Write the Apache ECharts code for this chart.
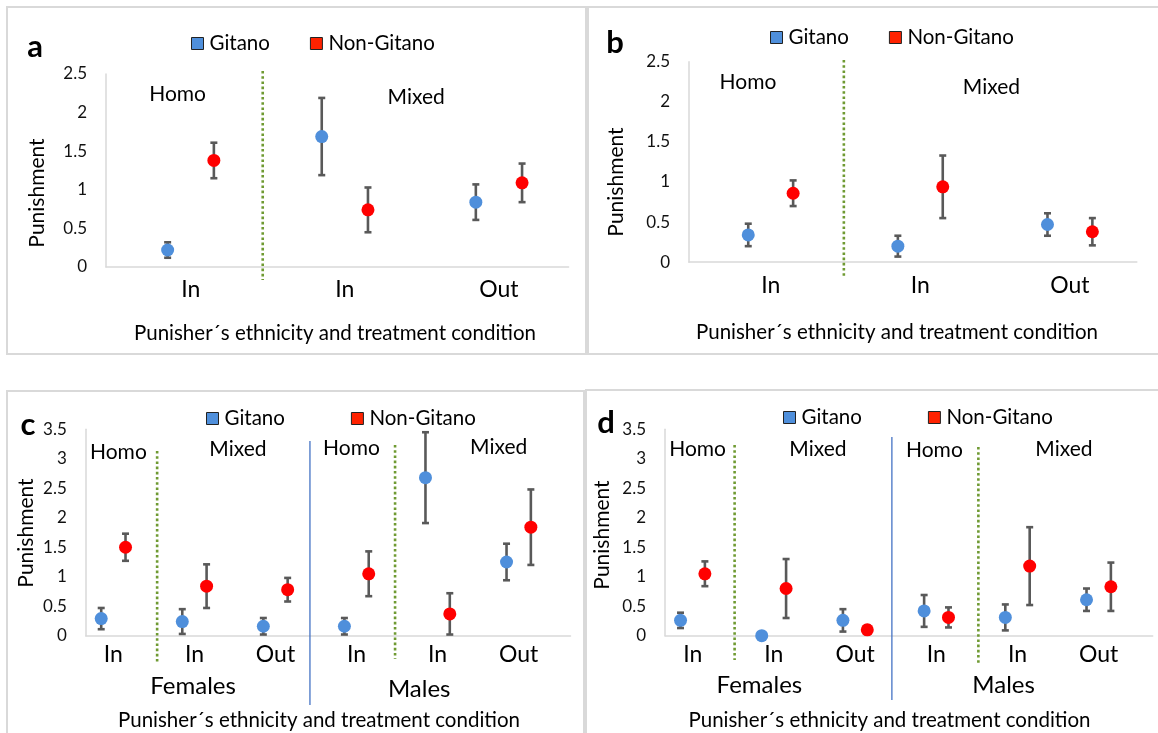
<!DOCTYPE html>
<html><head><meta charset="utf-8">
<script src="https://cdn.jsdelivr.net/npm/echarts@6/dist/echarts.min.js"></script>
<style>html,body{margin:0;padding:0;background:#fff}#c{width:1158px;height:733px}</style>
</head><body><div id="c"></div>
<script>
// ---- data ----
const seriesNames = ['Gitano', 'Non-Gitano'];
const aCats = ['In', 'In', 'Out'];
const aGitano = [0.22, 1.69, 0.84];
const aGitanoErr = [0.10, 0.50, 0.23];
const aNonGitano = [1.38, 0.74, 1.09];
const aNonGitanoErr = [0.23, 0.29, 0.25];

const bCats = ['In', 'In', 'Out'];
const bGitano = [0.34, 0.20, 0.47];
const bGitanoErr = [0.14, 0.13, 0.14];
const bNonGitano = [0.86, 0.94, 0.38];
const bNonGitanoErr = [0.16, 0.39, 0.17];

const cCats = ['In', 'In', 'Out', 'In', 'In', 'Out'];
const cGitano = [0.29, 0.24, 0.16, 0.16, 2.68, 1.25];
const cGitanoErr = [0.18, 0.21, 0.14, 0.14, 0.77, 0.31];
const cNonGitano = [1.50, 0.84, 0.78, 1.05, 0.37, 1.84];
const cNonGitanoErr = [0.23, 0.37, 0.20, 0.38, 0.35, 0.64];

const dCats = ['In', 'In', 'Out', 'In', 'In', 'Out'];
const dGitano = [0.26, 0.00, 0.26, 0.42, 0.31, 0.61];
const dGitanoErr = [0.13, 0.00, 0.19, 0.27, 0.22, 0.19];
const dNonGitano = [1.05, 0.80, 0.10, 0.31, 1.18, 0.83];
const dNonGitanoErr = [0.21, 0.50, 0.07, 0.17, 0.66, 0.41];

const yTitle = 'Punishment';
const xTitle = 'Punisher\u00b4s ethnicity and treatment condition';

// ---- styling / layout ----
const FONT = 'Lato, "Open Sans", sans-serif';
const BLUE = '#4f8fdb', RED = '#ff0000', ERR = '#595959';
const OFF = 0.15;

const panels = [
  { letter: 'a', cats: aCats, G: aGitano, Ge: aGitanoErr, N: aNonGitano, Ne: aNonGitanoErr,
    grid: { left: 106, top: 74, width: 462.6, height: 193 }, ymax: 2.5, xmin: -0.55, xmax: 2.452, labMargin: 11,
    letterPos: [35, 47], legend: [186, 28], legendGap: 40, yTitlePos: [37, 193], xTitlePos: [335, 333],
    texts: [['Homo', 177.6, 94], ['Mixed', 416.2, 97]], groups: [],
    dividers: [{ v: 0.467, y1: 71, y2: 280, kind: 'dot' }] },
  { letter: 'b', cats: bCats, G: bGitano, Ge: bGitanoErr, N: bNonGitano, Ne: bNonGitanoErr,
    grid: { left: 689, top: 61.7, width: 447.8, height: 200.5 }, ymax: 2.5, xmin: -0.546, xmax: 2.447, labMargin: 12,
    letterPos: [615, 43], legend: [765, 22], legendGap: 40, yTitlePos: [616, 182], xTitlePos: [897, 332],
    texts: [['Homo', 748, 82], ['Mixed', 991.4, 87]], groups: [],
    dividers: [{ v: 0.489, y1: 60, y2: 276, kind: 'dot' }] },
  { letter: 'c', cats: cCats, G: cGitano, Ge: cGitanoErr, N: cNonGitano, Ne: cNonGitanoErr,
    grid: { left: 85.8, top: 429.3, width: 484.7, height: 206.4 }, ymax: 3.5, xmin: -0.34, xmax: 5.639, labMargin: 7,
    letterPos: [28, 425], legend: [201, 403], legendGap: 66, yTitlePos: [26, 533], xTitlePos: [319, 720],
    texts: [['Homo', 118.4, 452], ['Mixed', 237.9, 449], ['Homo', 351.5, 448], ['Mixed', 498.7, 447]],
    groups: [['Females', 193.1, 686], ['Males', 419.2, 689]],
    dividers: [{ v: 0.54, y1: 451, y2: 663, kind: 'dot' }, { v: 2.425, y1: 441, y2: 705, kind: 'solid' }, { v: 3.475, y1: 445, y2: 659, kind: 'dot' }] },
  { letter: 'd', cats: dCats, G: dGitano, Ge: dGitanoErr, N: dNonGitano, Ne: dNonGitanoErr,
    grid: { left: 665.1, top: 429.3, width: 487.6, height: 206.4 }, ymax: 3.5, xmin: -0.34, xmax: 5.665, labMargin: 7,
    letterPos: [606, 423], legend: [778, 402], legendGap: 66, yTitlePos: [602, 535], xTitlePos: [889.5, 720],
    texts: [['Homo', 697.6, 449], ['Mixed', 817.9, 449], ['Homo', 934.4, 450], ['Mixed', 1063.9, 449]],
    groups: [['Females', 759.4, 685], ['Males', 1003.6, 685]],
    dividers: [{ v: 0.516, y1: 445, y2: 660, kind: 'dot' }, { v: 2.453, y1: 437, y2: 700, kind: 'solid' }, { v: 3.518, y1: 447, y2: 663, kind: 'dot' }] }
];

function errSeries(name, idx, vals, errs, offset) {
  return {
    type: 'custom', name: name, xAxisIndex: idx, yAxisIndex: idx, silent: true, z: 2,
    data: vals.map((v, i) => [i + offset, v - errs[i], v + errs[i]]),
    encode: { x: 0, y: [1, 2] },
    renderItem: function (params, api) {
      const x = api.value(0), lo = api.value(1), hi = api.value(2);
      if (hi - lo <= 0) return { type: 'group', children: [] };
      const p1 = api.coord([x, lo]), p2 = api.coord([x, hi]);
      const hw = 3.5, st = { stroke: ERR, lineWidth: 2.6 };
      return { type: 'group', children: [
        { type: 'line', shape: { x1: p1[0], y1: p1[1], x2: p2[0], y2: p2[1] }, style: st },
        { type: 'line', shape: { x1: p1[0] - hw, y1: p1[1], x2: p1[0] + hw, y2: p1[1] }, style: st },
        { type: 'line', shape: { x1: p2[0] - hw, y1: p2[1], x2: p2[0] + hw, y2: p2[1] }, style: st }
      ] };
    }
  };
}
function dotSeries(name, idx, vals, offset, color) {
  return {
    type: 'scatter', name: name, xAxisIndex: idx, yAxisIndex: idx, z: 3,
    symbol: 'circle', symbolSize: 13, itemStyle: { color: color, opacity: 1 },
    data: vals.map((v, i) => [i + offset, v])
  };
}

const grids = [], xAxes = [], yAxes = [], series = [], legends = [], graphics = [];
panels.forEach((p, k) => {
  grids.push(Object.assign({ containLabel: false }, p.grid));
  const cats = p.cats;
  xAxes.push({
    type: 'value', gridIndex: k, min: p.xmin, max: p.xmax,
    axisLine: { show: true, onZero: false, lineStyle: { color: '#d9d9d9', width: 1.5 } },
    axisTick: { show: false }, splitLine: { show: false },
    axisLabel: { customValues: cats.map((c, i) => i), formatter: v => cats[Math.round(v)],
      fontSize: 23, color: '#000', fontFamily: FONT, margin: p.labMargin }
  });
  yAxes.push({
    type: 'value', gridIndex: k, min: 0, max: p.ymax, interval: 0.5,
    axisLine: { show: true, onZero: false, lineStyle: { color: '#d9d9d9', width: 1.5 } },
    axisTick: { show: false }, splitLine: { show: false },
    axisLabel: { fontSize: 17, color: '#111', fontFamily: FONT, margin: 19 }
  });
  series.push(errSeries('Gitano SE', k, p.G, p.Ge, -OFF));
  series.push(errSeries('Non-Gitano SE', k, p.N, p.Ne, OFF));
  series.push(dotSeries(seriesNames[0], k, p.G, -OFF, BLUE));
  series.push(dotSeries(seriesNames[1], k, p.N, OFF, RED));
  legends.push({
    left: p.legend[0], top: p.legend[1], orient: 'horizontal', itemGap: p.legendGap,
    itemWidth: 12, itemHeight: 12, icon: 'rect', selectedMode: false,
    itemStyle: { borderColor: '#222', borderWidth: 1 },
    textStyle: { fontSize: 20.5, color: '#000', fontFamily: FONT, padding: [0, 0, 0, 1] },
    data: [{ name: seriesNames[0], itemStyle: { color: BLUE } }, { name: seriesNames[1], itemStyle: { color: '#ff2200' } }]
  });
});

// panel borders
[[7, 7, 579, 347], [588, 7, 580, 347], [7, 391, 577, 350], [586, 390, 580, 350]].forEach(r => {
  graphics.push({ type: 'rect', silent: true, z: 0, shape: { x: r[0], y: r[1], width: r[2], height: r[3] },
    style: { fill: 'none', stroke: '#d9d9d9', lineWidth: 2 } });
});
function txt(t, x, y, size, opts) {
  return Object.assign({ type: 'text', silent: true, x: x, y: y, z: 10,
    style: { text: t, fontSize: size, fontFamily: FONT, fill: '#000', align: 'center', verticalAlign: 'middle' } }, opts || {});
}
panels.forEach(p => {
  graphics.push(txt(p.letter, p.letterPos[0], p.letterPos[1], 31, { style: { text: p.letter, fontSize: 31, fontWeight: 'bold', fontFamily: FONT, fill: '#000', align: 'center', verticalAlign: 'middle' } }));
  graphics.push(txt(yTitle, p.yTitlePos[0], p.yTitlePos[1], 21, { rotation: Math.PI / 2 }));
  graphics.push(txt(xTitle, p.xTitlePos[0], p.xTitlePos[1], 20.5));
  p.texts.forEach(t => graphics.push(txt(t[0], t[1], t[2], 21)));
  p.groups.forEach(t => graphics.push(txt(t[0], t[1], t[2], 24)));
});

const chart = echarts.init(document.getElementById('c'), null, { renderer: 'canvas' });
chart.setOption({
  animation: false, backgroundColor: '#fff',
  grid: grids, xAxis: xAxes, yAxis: yAxes, series: series, legend: legends, graphic: graphics
});

// divider lines placed through the axis scale
panels.forEach((p, k) => {
  p.dividers.forEach(d => {
    const px = chart.convertToPixel({ xAxisIndex: k }, d.v);
    graphics.push({ type: 'line', silent: true, z: 1,
      shape: { x1: px, y1: d.y1, x2: px, y2: d.y2 },
      style: d.kind === 'dot' ? { stroke: '#6f9a32', lineWidth: 2.6, lineDash: [2.6, 2.6] } : { stroke: '#4472c4', lineWidth: 1.3 } });
  });
});
chart.setOption({ graphic: graphics }, { replaceMerge: ['graphic'] });
</script></body></html>
